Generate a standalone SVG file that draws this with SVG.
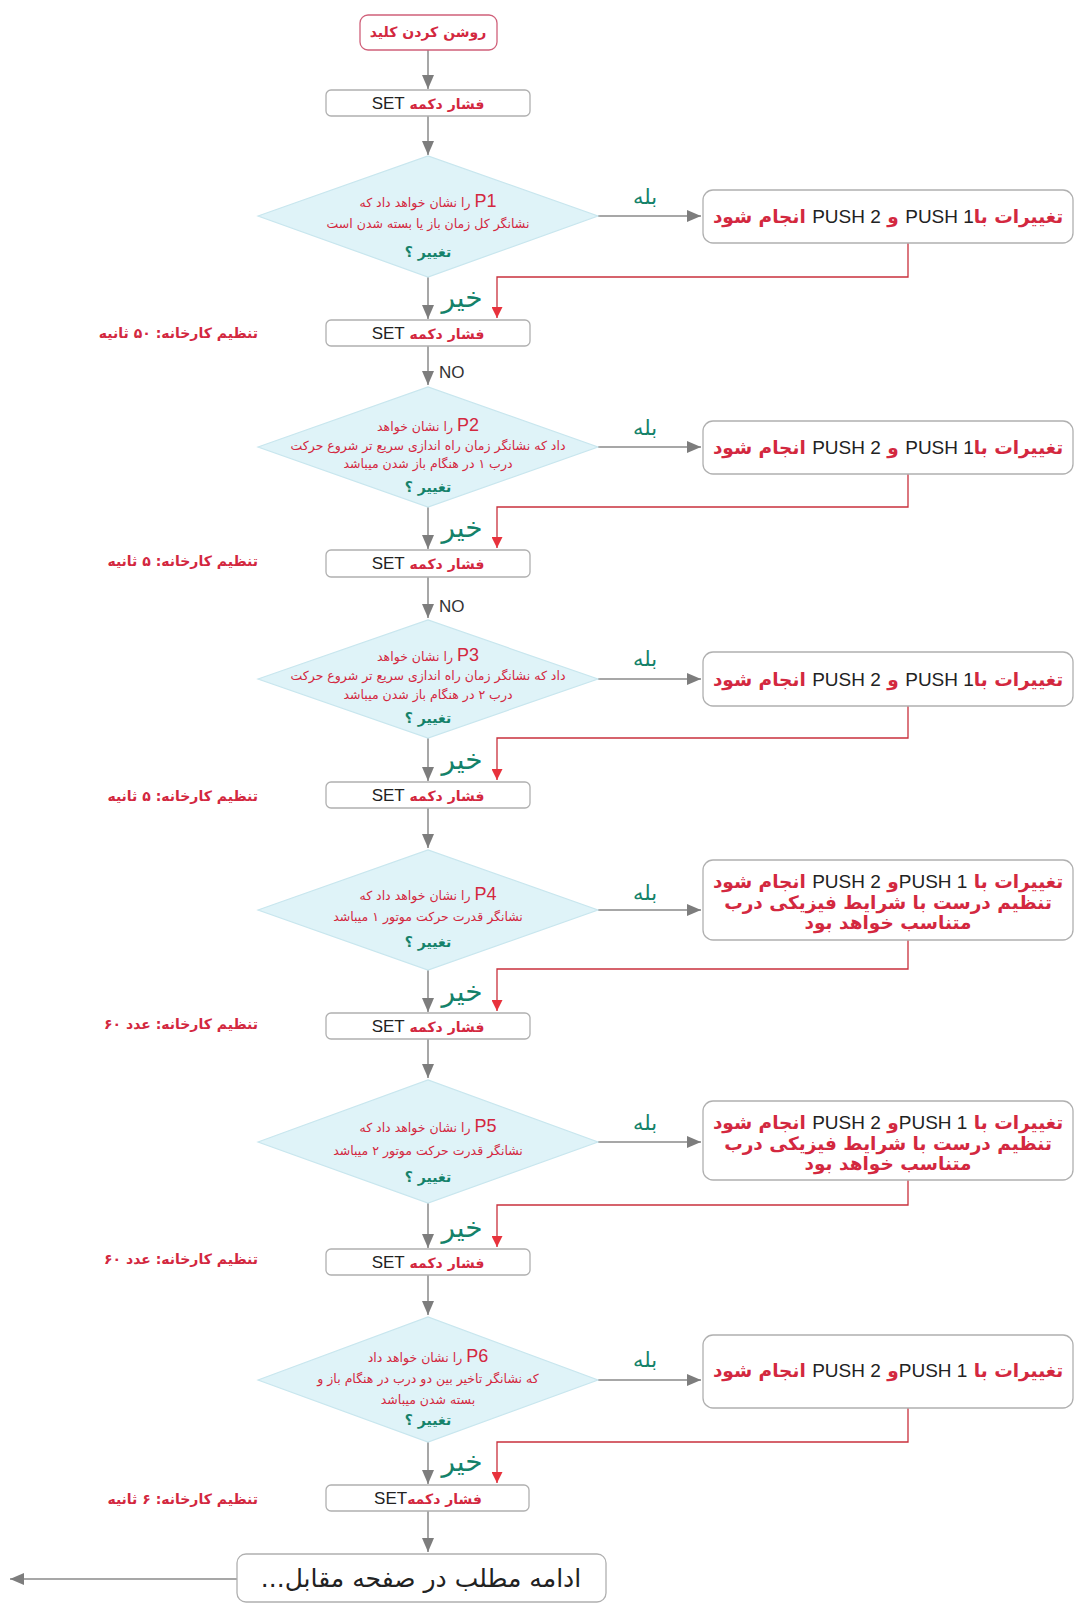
<svg xmlns="http://www.w3.org/2000/svg" width="1074" height="1605" viewBox="0 0 1074 1605">
<defs>
<marker id="ag" viewBox="0 0 14 12" refX="14" refY="6" markerWidth="14" markerHeight="12" markerUnits="userSpaceOnUse" orient="auto">
<path d="M0,0 L14,6 L0,12 z" fill="#7d7d7d"/>
</marker>
<marker id="ar" viewBox="0 0 12 12" refX="12" refY="6" markerWidth="11" markerHeight="11" markerUnits="userSpaceOnUse" orient="auto">
<path d="M0,0 L12,6 L0,12 z" fill="#e8323c"/>
</marker>
<style>
.box{fill:#fff;stroke:#b0b0b0;stroke-width:1.3}
.start{fill:#fff;stroke:#d0607a;stroke-width:1.3}
.dia{fill:#dff3f8;stroke:#c8e6ee;stroke-width:1.2}
.g{fill:none;stroke:#8a8a8a;stroke-width:1.5;marker-end:url(#ag)}
.r{fill:none;stroke:#c9303c;stroke-width:1.3;marker-end:url(#ar)}
.fa{font-family:"DejaVu Sans",sans-serif}
.red{fill:#d3283f}
.blk{fill:#222}
.dt{font-family:"DejaVu Sans",sans-serif;font-size:12.5px;fill:#d3283f}
.pn{font-family:"Liberation Sans",Arial,sans-serif;font-size:18px;fill:#d3283f}
.q{font-family:"DejaVu Sans",sans-serif;font-size:14px;font-weight:bold;fill:#14826a}
.yes{font-family:"DejaVu Sans",sans-serif;font-size:21px;fill:#14826a}
.no{font-family:"DejaVu Sans",sans-serif;font-size:28px;fill:#14826a}
.set{font-family:"DejaVu Sans",sans-serif;font-size:14px;font-weight:bold;fill:#d3283f}
.setl{font-family:"Liberation Sans",Arial,sans-serif;font-size:17px;font-weight:normal;fill:#222}
.rb{font-family:"DejaVu Sans",sans-serif;font-size:18.5px;font-weight:bold;fill:#d3283f}
.push{font-family:"Liberation Sans",Arial,sans-serif;font-size:19px;font-weight:normal;fill:#222}
.lab{font-family:"DejaVu Sans",sans-serif;font-size:14px;font-weight:bold;fill:#d3283f}
.nol{font-family:"Liberation Sans",Arial,sans-serif;font-size:17px;fill:#333}
</style>
</defs>

<g id="connectors">
<path class="g" d="M428,50 V89"/>
<path class="g" d="M428,116 V155"/>
<path class="g" d="M598,216 H701"/>
<path class="r" d="M908,243 V277 H497 V318"/>
<path class="g" d="M428,277 V319"/>
<path class="g" d="M428,345 V385"/>
<path class="g" d="M598,447 H701"/>
<path class="r" d="M908,474 V507 H497 V548"/>
<path class="g" d="M428,507 V549"/>
<path class="g" d="M428,577 V618"/>
<path class="g" d="M598,679 H701"/>
<path class="r" d="M908,706 V738 H497 V780"/>
<path class="g" d="M428,738 V781"/>
<path class="g" d="M428,808 V848"/>
<path class="g" d="M598,910 H701"/>
<path class="r" d="M908,940 V969 H497 V1011"/>
<path class="g" d="M428,970 V1012"/>
<path class="g" d="M428,1039 V1078"/>
<path class="g" d="M598,1142 H701"/>
<path class="r" d="M908,1180 V1205 H497 V1247"/>
<path class="g" d="M428,1203 V1248"/>
<path class="g" d="M428,1275 V1315"/>
<path class="g" d="M598,1380 H701"/>
<path class="r" d="M908,1408 V1442 H497 V1483"/>
<path class="g" d="M428,1442 V1484"/>
<path class="g" d="M428,1511 V1552"/>
<path class="g" d="M237,1579 H10"/>
</g>

<g id="edge-labels">
<text class="yes" x="645" y="204" text-anchor="middle">بله</text>
<text class="yes" x="645" y="435" text-anchor="middle">بله</text>
<text class="yes" x="645" y="666" text-anchor="middle">بله</text>
<text class="yes" x="645" y="900" text-anchor="middle">بله</text>
<text class="yes" x="645" y="1130" text-anchor="middle">بله</text>
<text class="yes" x="645" y="1367" text-anchor="middle">بله</text>
<text class="no" x="462" y="307" text-anchor="middle">خیر</text>
<text class="no" x="462" y="537" text-anchor="middle">خیر</text>
<text class="no" x="462" y="769" text-anchor="middle">خیر</text>
<text class="no" x="462" y="1001" text-anchor="middle">خیر</text>
<text class="no" x="462" y="1237" text-anchor="middle">خیر</text>
<text class="no" x="462" y="1471" text-anchor="middle">خیر</text>
<text class="nol" x="439" y="378">NO</text>
<text class="nol" x="439" y="612">NO</text>
</g>

<g id="start">
<rect class="start" x="360" y="15" width="137" height="35" rx="8"/>
<text class="fa red" x="428" y="37" font-size="14" font-weight="bold" text-anchor="middle" direction="rtl">روشن کردن کلید</text>
</g>

<g id="set1">
<rect class="box" x="326" y="90" width="204" height="26" rx="5"/>
<text x="428" y="109" text-anchor="middle" direction="rtl"><tspan class="set">فشار دکمه </tspan><tspan class="setl">SET</tspan></text>
</g>

<g id="p1">
<path class="dia" d="M258,216 L428,156 L598,216 L428,277 Z"/>
<text x="428" y="207" text-anchor="middle" direction="rtl"><tspan class="pn">P1</tspan><tspan class="dt"> را نشان خواهد داد که</tspan></text>
<text class="dt" x="428" y="228" text-anchor="middle" direction="rtl">نشانگر کل زمان باز یا بسته شدن است</text>
<text class="q" x="428" y="257" text-anchor="middle" direction="rtl">تغییر ؟</text>
</g>

<g id="r1">
<rect class="box" x="703" y="190" width="370" height="53" rx="10"/>
<text x="888" y="223" text-anchor="middle" direction="rtl"><tspan class="rb">تغییرات با</tspan><tspan class="push">PUSH 1</tspan><tspan class="rb"> و </tspan><tspan class="push">PUSH 2</tspan><tspan class="rb"> انجام شود</tspan></text>
</g>

<g id="set2">
<rect class="box" x="326" y="320" width="204" height="26" rx="5"/>
<text x="428" y="339" text-anchor="middle" direction="rtl"><tspan class="set">فشار دکمه </tspan><tspan class="setl">SET</tspan></text>
<text class="lab" x="258" y="338" text-anchor="start" direction="rtl">تنظیم کارخانه: ۵۰ ثانیه</text>
</g>

<g id="p2">
<path class="dia" d="M258,447 L428,387 L598,447 L428,507 Z"/>
<text x="428" y="431" text-anchor="middle" direction="rtl"><tspan class="pn">P2</tspan><tspan class="dt"> را نشان خواهد</tspan></text>
<text class="dt" x="428" y="450" text-anchor="middle" direction="rtl">داد که نشانگر زمان راه اندازی سریع تر شروع حرکت</text>
<text class="dt" x="428" y="468" text-anchor="middle" direction="rtl">درب ۱ در هنگام باز شدن میباشد</text>
<text class="q" x="428" y="492" text-anchor="middle" direction="rtl">تغییر ؟</text>
</g>

<g id="r2">
<rect class="box" x="703" y="421" width="370" height="53" rx="10"/>
<text x="888" y="454" text-anchor="middle" direction="rtl"><tspan class="rb">تغییرات با</tspan><tspan class="push">PUSH 1</tspan><tspan class="rb"> و </tspan><tspan class="push">PUSH 2</tspan><tspan class="rb"> انجام شود</tspan></text>
</g>

<g id="set3">
<rect class="box" x="326" y="550" width="204" height="27" rx="5"/>
<text x="428" y="569" text-anchor="middle" direction="rtl"><tspan class="set">فشار دکمه </tspan><tspan class="setl">SET</tspan></text>
<text class="lab" x="258" y="566" text-anchor="start" direction="rtl">تنظیم کارخانه: ۵ ثانیه</text>
</g>

<g id="p3">
<path class="dia" d="M258,679 L428,620 L598,679 L428,738 Z"/>
<text x="428" y="661" text-anchor="middle" direction="rtl"><tspan class="pn">P3</tspan><tspan class="dt"> را نشان خواهد</tspan></text>
<text class="dt" x="428" y="680" text-anchor="middle" direction="rtl">داد که نشانگر زمان راه اندازی سریع تر شروع حرکت</text>
<text class="dt" x="428" y="699" text-anchor="middle" direction="rtl">درب ۲ در هنگام باز شدن میباشد</text>
<text class="q" x="428" y="723" text-anchor="middle" direction="rtl">تغییر ؟</text>
</g>

<g id="r3">
<rect class="box" x="703" y="652" width="370" height="54" rx="10"/>
<text x="888" y="686" text-anchor="middle" direction="rtl"><tspan class="rb">تغییرات با</tspan><tspan class="push">PUSH 1</tspan><tspan class="rb"> و </tspan><tspan class="push">PUSH 2</tspan><tspan class="rb"> انجام شود</tspan></text>
</g>

<g id="set4">
<rect class="box" x="326" y="782" width="204" height="26" rx="5"/>
<text x="428" y="801" text-anchor="middle" direction="rtl"><tspan class="set">فشار دکمه </tspan><tspan class="setl">SET</tspan></text>
<text class="lab" x="258" y="801" text-anchor="start" direction="rtl">تنظیم کارخانه: ۵ ثانیه</text>
</g>

<g id="p4">
<path class="dia" d="M258,910 L428,850 L598,910 L428,970 Z"/>
<text x="428" y="900" text-anchor="middle" direction="rtl"><tspan class="pn">P4</tspan><tspan class="dt">  را نشان خواهد داد که</tspan></text>
<text class="dt" x="428" y="921" text-anchor="middle" direction="rtl">نشانگر قدرت حرکت موتور ۱ میباشد</text>
<text class="q" x="428" y="947" text-anchor="middle" direction="rtl">تغییر ؟</text>
</g>

<g id="r4">
<rect class="box" x="703" y="860" width="370" height="80" rx="10"/>
<text x="888" y="888" text-anchor="middle" direction="rtl"><tspan class="rb">تغییرات با </tspan><tspan class="push">PUSH 1</tspan><tspan class="rb">و </tspan><tspan class="push">PUSH 2</tspan><tspan class="rb"> انجام شود</tspan></text>
<text class="rb" x="888" y="909" text-anchor="middle" direction="rtl">تنظیم درست با شرایط فیزیکی درب</text>
<text class="rb" x="888" y="929" text-anchor="middle" direction="rtl">متناسب خواهد بود</text>
</g>

<g id="set5">
<rect class="box" x="326" y="1013" width="204" height="26" rx="5"/>
<text x="428" y="1032" text-anchor="middle" direction="rtl"><tspan class="set">فشار دکمه </tspan><tspan class="setl">SET</tspan></text>
<text class="lab" x="258" y="1029" text-anchor="start" direction="rtl">تنظیم کارخانه: عدد ۶۰</text>
</g>

<g id="p5">
<path class="dia" d="M258,1142 L428,1080 L598,1142 L428,1203 Z"/>
<text x="428" y="1132" text-anchor="middle" direction="rtl"><tspan class="pn">P5</tspan><tspan class="dt">  را نشان خواهد داد که</tspan></text>
<text class="dt" x="428" y="1155" text-anchor="middle" direction="rtl">نشانگر قدرت حرکت موتور ۲ میباشد</text>
<text class="q" x="428" y="1182" text-anchor="middle" direction="rtl">تغییر ؟</text>
</g>

<g id="r5">
<rect class="box" x="703" y="1101" width="370" height="79" rx="10"/>
<text x="888" y="1129" text-anchor="middle" direction="rtl"><tspan class="rb">تغییرات با </tspan><tspan class="push">PUSH 1</tspan><tspan class="rb">و </tspan><tspan class="push">PUSH 2</tspan><tspan class="rb"> انجام شود</tspan></text>
<text class="rb" x="888" y="1150" text-anchor="middle" direction="rtl">تنظیم درست با شرایط فیزیکی درب</text>
<text class="rb" x="888" y="1170" text-anchor="middle" direction="rtl">متناسب خواهد بود</text>
</g>

<g id="set6">
<rect class="box" x="326" y="1249" width="204" height="26" rx="5"/>
<text x="428" y="1268" text-anchor="middle" direction="rtl"><tspan class="set">فشار دکمه </tspan><tspan class="setl">SET</tspan></text>
<text class="lab" x="258" y="1264" text-anchor="start" direction="rtl">تنظیم کارخانه: عدد ۶۰</text>
</g>

<g id="p6">
<path class="dia" d="M258,1380 L428,1317 L598,1380 L428,1442 Z"/>
<text x="428" y="1362" text-anchor="middle" direction="rtl"><tspan class="pn">P6</tspan><tspan class="dt">  را نشان خواهد داد</tspan></text>
<text class="dt" x="428" y="1383" text-anchor="middle" direction="rtl">که نشانگر تاخیر بین دو درب در هنگام باز و</text>
<text class="dt" x="428" y="1404" text-anchor="middle" direction="rtl">بسته شدن میباشد</text>
<text class="q" x="428" y="1425" text-anchor="middle" direction="rtl">تغییر ؟</text>
</g>

<g id="r6">
<rect class="box" x="703" y="1335" width="370" height="73" rx="10"/>
<text x="888" y="1377" text-anchor="middle" direction="rtl"><tspan class="rb">تغییرات با  </tspan><tspan class="push">PUSH 1</tspan><tspan class="rb">و </tspan><tspan class="push">PUSH 2</tspan><tspan class="rb">  انجام شود</tspan></text>
</g>

<g id="set7">
<rect class="box" x="326" y="1485" width="203" height="26" rx="5"/>
<text x="428" y="1504" text-anchor="middle" direction="rtl"><tspan class="set">فشار دکمه</tspan><tspan class="setl">SET</tspan></text>
<text class="lab" x="258" y="1504" text-anchor="start" direction="rtl">تنظیم کارخانه: ۶ ثانیه</text>
</g>

<g id="end">
<rect class="box" x="237" y="1554" width="369" height="48" rx="9"/>
<text class="fa blk" x="421" y="1587" font-size="25" text-anchor="middle" direction="rtl">ادامه مطلب در صفحه مقابل...</text>
</g>
</svg>
